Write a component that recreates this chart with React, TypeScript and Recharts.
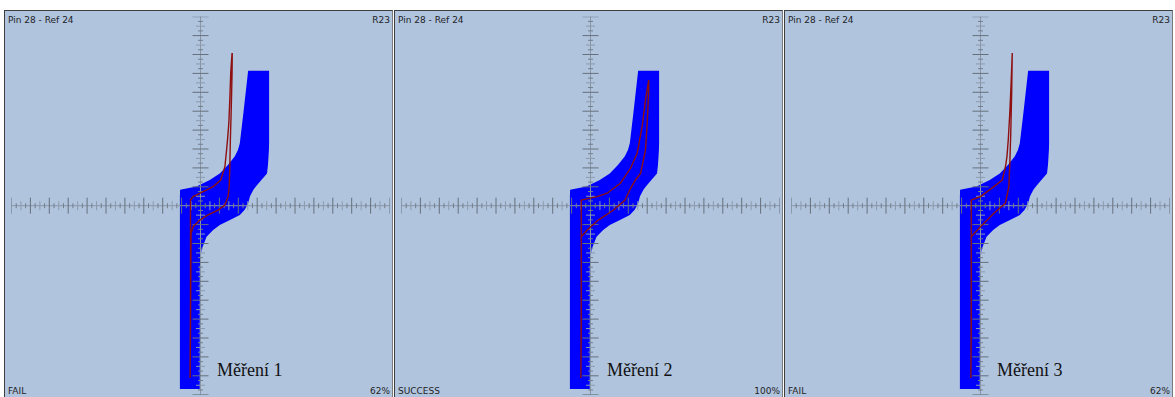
import React from 'react';
import { ComposedChart, Area, Scatter, XAxis, YAxis, ReferenceLine } from 'recharts';

// tolerance band of the reference pin (same in all three views): y level, left edge, right edge
const bandY = [7.14, 5.0, 3.3, 2.95, 2.6, 2.15, 1.71, 1.36, 1.01, 0.84, 0.5, 0.13, -0.2, -0.49, -0.76, -1.02, -1.29, -1.64, -2.34, -3.23, -9.7];
const bandLeft = [2.52, 2.28, 2.08, 1.98, 1.81, 1.45, 1.02, 0.49, -0.21, -1.08, -1.09, -1.09, -1.09, -1.09, -1.09, -1.09, -1.09, -1.09, -1.09, -1.09, -1.09];
const bandRight = [3.63, 3.63, 3.63, 3.62, 3.6, 3.57, 3.52, 3.22, 2.93, 2.8, 2.62, 2.52, 2.35, 2.08, 1.56, 1.02, 0.67, 0.32, 0.05, -0.04, -0.04];

// measured curves (closed loops)
const curve1X = [1.67, 1.6, 1.55, 1.5, 1.44, 1.38, 1.29, 1.07, 0.67, 0.14, -0.39, -0.53, -0.53, -0.55, -0.53, -0.5, -0.39, -0.04, 0.4, 0.93, 1.29, 1.46, 1.52, 1.55, 1.58, 1.63, 1.67, 1.68];
const curve1Y = [8.08, 7.02, 5.6, 4.38, 3.6, 2.95, 2.06, 1.36, 1.01, 0.74, 0.48, 0.3, -4.99, -9.12, -6.58, -1.46, -1.11, -0.76, -0.49, -0.23, 0.04, 0.48, 1.01, 2.06, 3.48, 5.24, 7.02, 8.08];

const curve2X = [3.08, 2.91, 2.73, 2.47, 2.12, 1.58, 0.88, 0.35, -0.49, -0.49, -0.51, -0.49, -0.49, -0.17, 0.41, 1.22, 1.83, 2.12, 2.38, 2.65, 2.91, 3.0, 3.08, 3.08];
const curve2Y = [6.65, 5.59, 4.18, 2.77, 1.98, 1.19, 0.66, 0.48, 0.3, -5.0, -9.12, -6.6, -1.64, -1.29, -0.76, -0.23, 0.3, 0.92, 1.36, 1.71, 2.95, 4.36, 6.12, 6.65];

const curve3X = [1.68, 1.62, 1.55, 1.47, 1.4, 1.32, 1.15, 0.71, 0.0, -0.49, -0.49, -0.51, -0.49, -0.49, 0.0, 0.71, 1.32, 1.5, 1.55, 1.6, 1.65, 1.68];
const curve3Y = [8.08, 6.5, 4.9, 3.5, 2.6, 2.06, 1.36, 1.01, 0.48, 0.3, -5.0, -9.12, -6.6, -1.64, -1.11, -0.4, 0.13, 1.01, 2.2, 3.8, 6.0, 8.08];

const titles = ['Pin 28 - Ref 24', 'Pin 28 - Ref 24', 'Pin 28 - Ref 24'];
const refs = ['R23', 'R23', 'R23'];
const statuses = ['FAIL', 'SUCCESS', 'FAIL'];
const percents = ['62%', '100%', '62%'];
const captions = ['Měření 1', 'Měření 2', 'Měření 3'];
const curvesX = [curve1X, curve2X, curve3X];
const curvesY = [curve1Y, curve2Y, curve3Y];

const panelLeft = [4, 394, 784];
const BG = '#b0c4de';

const bandRows = bandY.map((y, i) => ({ y, band: [bandLeft[i], bandRight[i]] }));

// axis ticks every quarter division
const tickSteps = Array.from({ length: 81 }, (_, i) => -10 + i * 0.25);
const tickKind = (t: number) => (Math.abs(t % 1) < 1e-6 ? 'major' : Math.abs(t % 0.5) < 1e-6 ? 'half' : 'minor');
const xTicks = tickSteps.map(t => ({ x: t, y: 0, kind: tickKind(t) }));
const yTicks = tickSteps.map(t => ({ x: 0, y: t, kind: tickKind(t) }));

const tickLen: Record<string, number> = { major: 8, half: 4.5, minor: 2.5 };
const tickColor: Record<string, string> = { major: '#66707c', half: '#8c9aab', minor: '#737e8a' };

const XTick = (p: any) => {
  const k = p.payload.kind;
  const h = tickLen[k];
  return <line x1={p.cx} x2={p.cx} y1={p.cy - h} y2={p.cy + h} stroke={tickColor[k]} strokeWidth={1} />;
};
const YTick = (p: any) => {
  const k = p.payload.kind;
  const h = tickLen[k];
  return <line x1={p.cx - h} x2={p.cx + h} y1={p.cy} y2={p.cy} stroke={tickColor[k]} strokeWidth={1} />;
};
const NoDot = () => <g />;

function Panel({ idx }: { idx: number }) {
  const curve = curvesX[idx].map((x, i) => ({ x, y: curvesY[idx][i] }));
  return (
    <div
      style={{
        position: 'absolute',
        left: panelLeft[idx],
        top: 10,
        width: 389,
        height: 395,
        boxSizing: 'border-box',
        background: BG,
        borderLeft: '1px solid #3e3e3e',
        borderTop: '1px solid #3e3e3e',
        borderRight: '1px solid #7a7a7a',
        overflow: 'hidden',
      }}
    >
      <ComposedChart
        width={387}
        height={390}
        layout="vertical"
        data={bandRows}
        margin={{ top: 5.7, right: 2.5, bottom: 6.3, left: 6.5 }}
      >
        <XAxis type="number" dataKey="x" domain={[-10, 10]} allowDataOverflow hide />
        <YAxis type="number" dataKey="y" domain={[-10, 10]} allowDataOverflow reversed hide />
        <ReferenceLine y={0} stroke="#8a96a6" strokeWidth={1} />
        <ReferenceLine x={0} stroke="#8a96a6" strokeWidth={1} />
        <Scatter data={xTicks} shape={XTick} isAnimationActive={false} />
        <Scatter data={yTicks} shape={YTick} isAnimationActive={false} />
        <Area
          type="linear"
          dataKey="band"
          stroke="none"
          fill="#0000ff"
          fillOpacity={1}
          isAnimationActive={false}
          dot={false}
          activeDot={false}
        />
        <Scatter
          data={curve}
          shape={NoDot}
          line={{ stroke: '#8e0f0f', strokeWidth: 1.4 }}
          lineType="joint"
          isAnimationActive={false}
        />
      </ComposedChart>
      <svg
        width={387}
        height={390}
        style={{ position: 'absolute', left: 0, top: 0, pointerEvents: 'none' }}
      >
        <g fontFamily="'DejaVu Sans', sans-serif" fontSize={9} fill="#1e1e1e">
          <text x={3} y={12}>{titles[idx]}</text>
          <text x={385} y={12} textAnchor="end">{refs[idx]}</text>
          <text x={3} y={383}>{statuses[idx]}</text>
          <text x={385} y={383} textAnchor="end">{percents[idx]}</text>
        </g>
        <text x={212} y={365} fontFamily="'Liberation Serif', serif" fontSize={18} fill="#111">
          {captions[idx]}
        </text>
      </svg>
    </div>
  );
}

export default function App() {
  return (
    <div
      style={{
        position: 'fixed',
        left: 0,
        top: 0,
        width: 1175,
        height: 397,
        background: '#ffffff',
        overflow: 'hidden',
      }}
    >
      {[0, 1, 2].map(i => (
        <Panel key={i} idx={i} />
      ))}
    </div>
  );
}
